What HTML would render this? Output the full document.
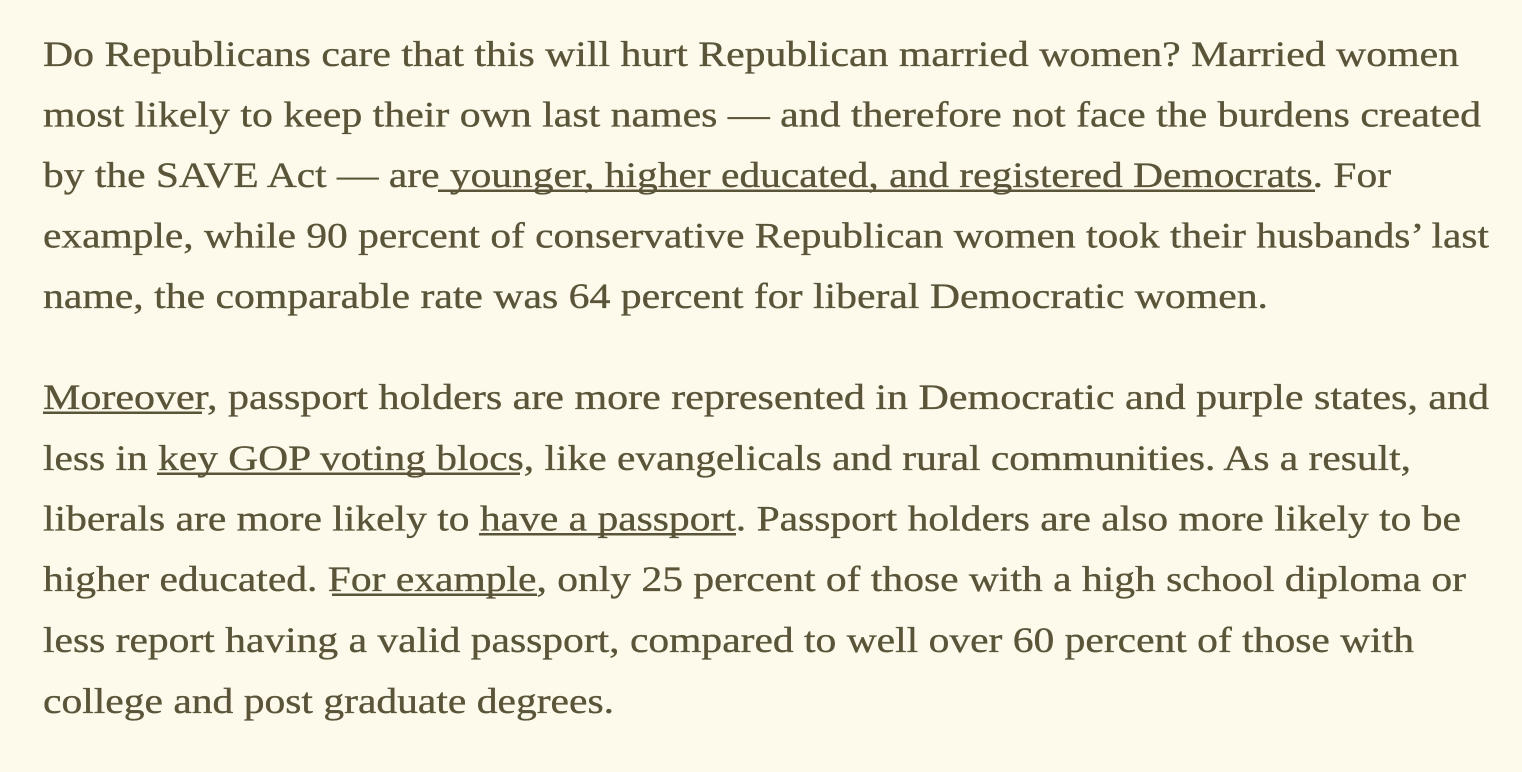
<!DOCTYPE html>
<html>
<head>
<meta charset="utf-8">
<style>
  html, body { margin: 0; padding: 0; background: #fefaeb; }
  body { width: 1522px; height: 772px; overflow: hidden; }
  svg { display: block; }
  text { font-family: "Liberation Serif", serif; font-size: 36px; fill: #5a5439; stroke: #5a5439; stroke-width: 0.35px; }
</style>
</head>
<body>
<svg width="1522" height="772" viewBox="0 0 1522 772" xmlns="http://www.w3.org/2000/svg">
  <rect x="0" y="0" width="1522" height="772" fill="#fefaeb"/>
  <!-- Paragraph 1 -->
  <text x="43" y="66" textLength="1416" lengthAdjust="spacingAndGlyphs">Do Republicans care that this will hurt Republican married women? Married women</text>
  <text x="43" y="126.5" textLength="1438" lengthAdjust="spacingAndGlyphs">most likely to keep their own last names — and therefore not face the burdens created</text>
  <text x="43" y="187" textLength="1348" lengthAdjust="spacingAndGlyphs">by the SAVE Act — are younger, higher educated, and registered Democrats. For</text>
  <text x="43" y="247.5" textLength="1446" lengthAdjust="spacingAndGlyphs">example, while 90 percent of conservative Republican women took their husbands’ last</text>
  <text x="43" y="308" textLength="1225" lengthAdjust="spacingAndGlyphs">name, the comparable rate was 64 percent for liberal Democratic women.</text>

  <!-- Paragraph 2 -->
  <text x="43" y="409" textLength="1446" lengthAdjust="spacingAndGlyphs">Moreover, passport holders are more represented in Democratic and purple states, and</text>
  <text x="43" y="470" textLength="1368" lengthAdjust="spacingAndGlyphs">less in key GOP voting blocs, like evangelicals and rural communities. As a result,</text>
  <text x="43" y="530.5" textLength="1418" lengthAdjust="spacingAndGlyphs">liberals are more likely to have a passport. Passport holders are also more likely to be</text>
  <text x="43" y="591" textLength="1423" lengthAdjust="spacingAndGlyphs">higher educated. For example, only 25 percent of those with a high school diploma or</text>
  <text x="43" y="652" textLength="1371" lengthAdjust="spacingAndGlyphs">less report having a valid passport, compared to well over 60 percent of those with</text>
  <text x="43" y="713" textLength="571" lengthAdjust="spacingAndGlyphs">college and post graduate degrees.</text>

  <!-- Underlines -->
  <g fill="#5a5439">
    <rect x="438" y="189.5" width="877" height="2.5"/>
    <rect x="43" y="411.5" width="159" height="2.5"/>
    <rect x="157" y="472.5" width="363" height="2.5"/>
    <rect x="479" y="533" width="257" height="2.5"/>
    <rect x="332" y="593.5" width="205" height="2.5"/>
  </g>
</svg>
</body>
</html>
